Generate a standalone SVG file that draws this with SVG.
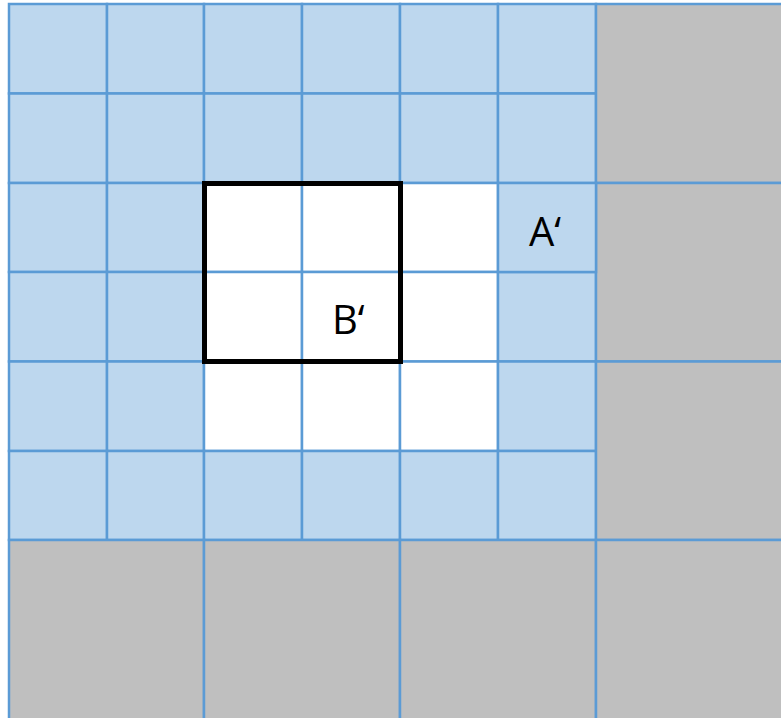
<svg xmlns="http://www.w3.org/2000/svg" width="781" height="718" viewBox="0 0 781 718">
<style>
.b{fill:#bdd7ee;stroke:#5b9bd5;stroke-width:2.5}
.w{fill:#ffffff;stroke:#5b9bd5;stroke-width:2.5}
.g{fill:#bfbfbf;stroke:#5b9bd5;stroke-width:2.5}
.t{font-family:"Open Sans","Liberation Sans",sans-serif;font-size:40px;fill:#000}
</style>
<rect width="781" height="718" fill="#ffffff"/>
<g id="grid">
<rect class="b" x="9" y="4" width="98" height="89.5"/>
<rect class="b" x="107" y="4" width="97" height="89.5"/>
<rect class="b" x="204" y="4" width="98" height="89.5"/>
<rect class="b" x="302" y="4" width="98" height="89.5"/>
<rect class="b" x="400" y="4" width="98" height="89.5"/>
<rect class="b" x="498" y="4" width="98" height="89.5"/>
<rect class="b" x="9" y="93.5" width="98" height="89.5"/>
<rect class="b" x="107" y="93.5" width="97" height="89.5"/>
<rect class="b" x="204" y="93.5" width="98" height="89.5"/>
<rect class="b" x="302" y="93.5" width="98" height="89.5"/>
<rect class="b" x="400" y="93.5" width="98" height="89.5"/>
<rect class="b" x="498" y="93.5" width="98" height="89.5"/>
<rect class="b" x="9" y="183" width="98" height="89"/>
<rect class="b" x="107" y="183" width="97" height="89"/>
<rect class="w" x="204" y="183" width="98" height="89"/>
<rect class="w" x="302" y="183" width="98" height="89"/>
<rect class="w" x="400" y="183" width="98" height="89"/>
<rect class="b" x="9" y="272" width="98" height="89.5"/>
<rect class="b" x="107" y="272" width="97" height="89.5"/>
<rect class="w" x="204" y="272" width="98" height="89.5"/>
<rect class="w" x="302" y="272" width="98" height="89.5"/>
<rect class="w" x="400" y="272" width="98" height="89.5"/>
<rect class="b" x="498" y="272" width="98" height="89.5"/>
<rect class="b" x="9" y="361.5" width="98" height="89.5"/>
<rect class="b" x="107" y="361.5" width="97" height="89.5"/>
<rect class="w" x="204" y="361.5" width="98" height="89.5"/>
<rect class="w" x="302" y="361.5" width="98" height="89.5"/>
<rect class="w" x="400" y="361.5" width="98" height="89.5"/>
<rect class="b" x="498" y="361.5" width="98" height="89.5"/>
<rect class="b" x="9" y="451" width="98" height="89"/>
<rect class="b" x="107" y="451" width="97" height="89"/>
<rect class="b" x="204" y="451" width="98" height="89"/>
<rect class="b" x="302" y="451" width="98" height="89"/>
<rect class="b" x="400" y="451" width="98" height="89"/>
<rect class="b" x="498" y="451" width="98" height="89"/>
<rect class="g" x="596" y="4" width="187" height="179"/>
<rect class="g" x="596" y="183" width="187" height="178.5"/>
<rect class="g" x="596" y="361.5" width="187" height="178.5"/>
<rect class="g" x="9" y="540" width="195" height="180"/>
<rect class="g" x="204" y="540" width="196" height="180"/>
<rect class="g" x="400" y="540" width="196" height="180"/>
<rect class="g" x="596" y="540" width="187" height="180"/>
</g>
<g id="A">
<rect class="b" x="498" y="183" width="98" height="89"/>
<text class="t" x="529" y="246">A‘</text>
</g>
<g id="B">
<rect x="204.5" y="183.5" width="196" height="178" fill="none" stroke="#000" stroke-width="5"/>
<text class="t" x="332" y="334">B‘</text>
</g>
</svg>
